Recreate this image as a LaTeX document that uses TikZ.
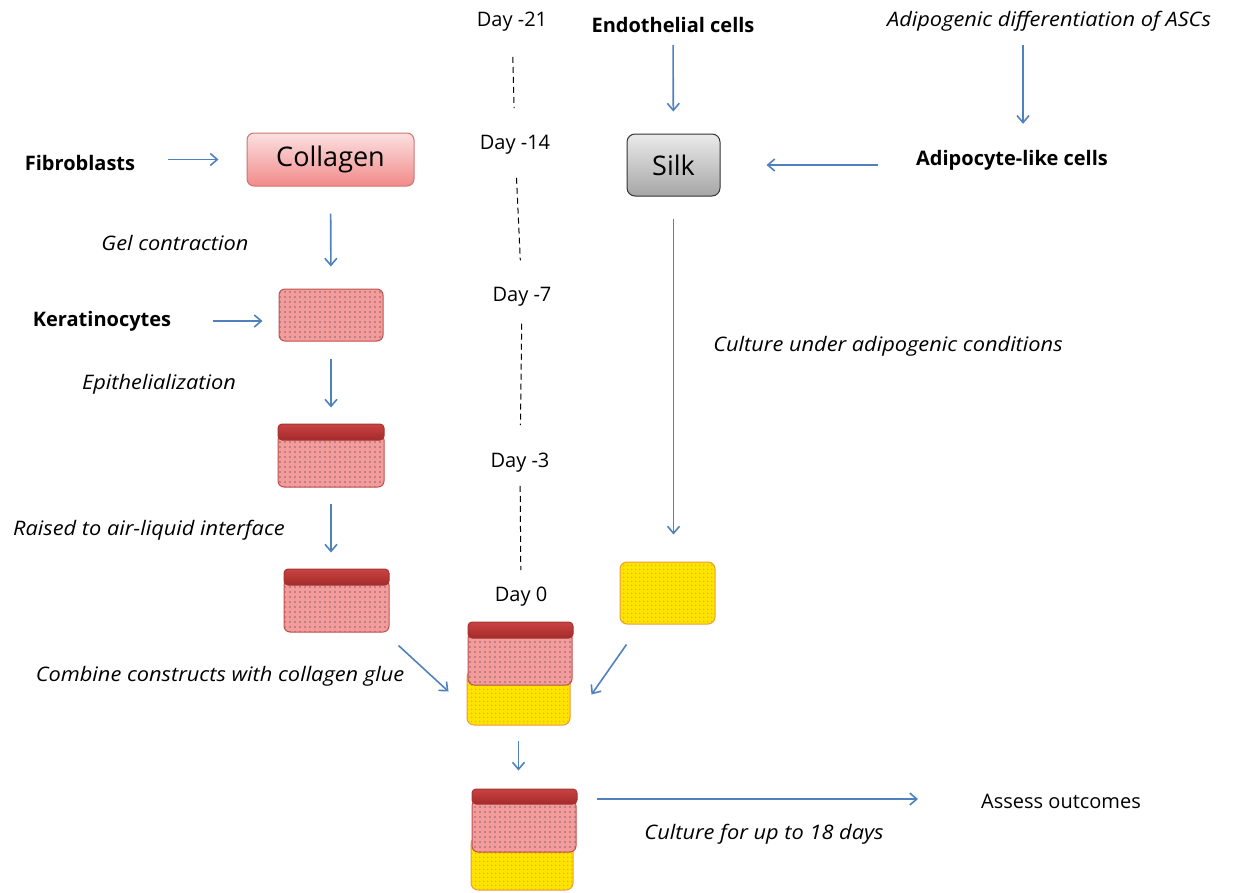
\documentclass[tikz,border=0pt]{standalone}
\usepackage{fontspec}
\setmainfont{Open Sans}
\newfontfamily\stepfont[FakeStretch=1.09]{Open Sans}
\usetikzlibrary{
  arrows.meta,
  patterns.meta
}
\definecolor{flowBlue}{HTML}{4F81BD}
\definecolor{pinkFill}{HTML}{F49C9C}
\definecolor{pinkLine}{HTML}{C0504D}
\definecolor{pinkDot}{HTML}{86666A}
\definecolor{redTop}{HTML}{C94343}
\definecolor{redBottom}{HTML}{A52A2A}
\definecolor{redLine}{HTML}{A33434}
\definecolor{yellowFill}{HTML}{FFE400}
\definecolor{yellowDot}{HTML}{EDB800}
\definecolor{yellowLine}{HTML}{F09A3E}
\definecolor{collTop}{HTML}{FBE0E0}
\definecolor{collBottom}{HTML}{F28A8A}
\tikzset{
  font=\fontsize{20}{24}\selectfont,
  daytext/.style={text=black, inner sep=2pt},
  cellname/.style={font=\fontsize{20}{24}\selectfont\bfseries, inner sep=2pt},
  steptext/.style={font=\stepfont\fontsize{20}{24}\selectfont\itshape, inner sep=2pt},
  plaintext/.style={inner sep=2pt},
  layer/.style={inner sep=0pt, line width=1pt},
  pinklayer/.style={layer, rounded corners=6pt, draw=pinkLine,
    preaction={fill=pinkFill},
    pattern={Dots[distance=5pt, radius=0.85pt]}, pattern color=pinkDot},
  redlayer/.style={layer, rounded corners=4pt, draw=redLine,
    top color=redTop, bottom color=redBottom},
  yellowlayer/.style={layer, rounded corners=7pt, draw=yellowLine,
    preaction={fill=yellowFill},
    pattern={Dots[distance=4pt, radius=1.2pt]}, pattern color=yellowDot},
  collbox/.style={layer, rounded corners=7pt, draw=pinkLine!80,
    top color=collTop, bottom color=collBottom,
    font=\fontsize{27}{32}\selectfont},
  silkbox/.style={layer, rounded corners=8pt, draw=black!80,
    top color=black!8, bottom color=black!35,
    font=\fontsize{27}{32}\selectfont},
  flow/.style={-{Straight Barb[length=7pt, width=12pt]}, line width=1.6pt, draw=flowBlue},
  dayline/.style={line width=1pt, draw=black, dash pattern=on 6pt off 4pt}
}

\begin{document}
\begin{tikzpicture}[x=1pt,y=-1pt]
\useasboundingbox (0,0) rectangle (1233,892);

% timeline
\node[daytext] (day21) at (512,22) {Day -21};
\node[daytext] (day14) at (515,145) {Day -14};
\node[daytext] (day7) at (522,297) {Day -7};
\node[daytext] (day3) at (520,463) {Day -3};
\node[daytext] (day0) at (521,597) {Day 0};

\draw[dayline, shorten <=23pt, shorten >=25pt] (day21) -- (day14);
\draw[dayline, shorten <=21pt, shorten >=25pt] (day14) -- (day7);
\draw[dayline, shorten <=15pt, shorten >=26pt] (day7) -- (day3);
\draw[dayline, shorten <=11pt, shorten >=15pt] (day3) -- (day0);

% skin side
\node[cellname] (fibro) at (80,163) {Fibroblasts};
\node[collbox, minimum width=167pt, minimum height=53pt] (collagen) at (330.5,159.5) {Collagen};
\node[steptext] (gel) at (175,243) {Gel contraction};
\node[pinklayer, minimum width=104pt, minimum height=52pt] (gelbox) at (331,315) {};
\node[cellname] (kera) at (102,321) {Keratinocytes};
\node[steptext] (epi) at (159,384) {Epithelialization};
\node[pinklayer, minimum width=106pt, minimum height=53pt] (epibox) at (331,460.5) {};
\node[redlayer, minimum width=106pt, minimum height=16pt] (epitop) at (331,432) {};
\node[steptext] (raise) at (149,530) {Raised to air-liquid interface};
\node[pinklayer, minimum width=105pt, minimum height=53pt] (airbox) at (336.5,605.5) {};
\node[redlayer, minimum width=105pt, minimum height=16pt] (airtop) at (336.5,577) {};

\draw[flow, shorten <=31pt, shorten >=28pt] (fibro.east |- collagen.west) -- (collagen.west);
\draw[flow, shorten <=27pt, shorten >=22pt] (collagen) -- (gelbox);
\draw[flow, shorten <=40pt, shorten >=16pt] (kera.east) -- (gelbox.west |- kera.east);
\draw[flow, shorten <=17pt, shorten >=16pt] (gelbox) -- (epitop);
\draw[flow, shorten <=16pt, shorten >=16pt] (epibox.south) -- (airtop.north -| epibox.south);

% fat side
\node[cellname] (endo) at (673,25) {Endothelial cells};
\node[steptext] (adipodiff) at (1049,21) {Adipogenic differentiation of ASCs};
\node[cellname] (adipo) at (1012,160) {Adipocyte-like cells};
\node[silkbox, minimum width=93pt, minimum height=62pt] (silk) at (673.5,165) {Silk};
\node[steptext] (adicult) at (888,346) {Culture under adipogenic conditions};
\node[yellowlayer, minimum width=95pt, minimum height=62pt] (fatbox) at (667.5,593) {};

\draw[flow, shorten <=10pt, shorten >=22pt] (endo) -- (silk);
\draw[flow] ([xshift=-26pt, yshift=-12pt]adipodiff.south) -- ([xshift=11pt, yshift=24pt]adipo.north);
\draw[flow, shorten <=36pt, shorten >=46pt] (adipo.west |- silk) -- (silk.east);
\draw[flow, shorten <=22pt, shorten >=27pt] (silk.south) -- (fatbox.north -| silk.south);

% combined construct
\node[steptext] (combine) at (220,676) {Combine constructs with collagen glue};
\node[yellowlayer, minimum width=103pt, minimum height=55pt] (combfat) at (518.5,697.5) {};
\node[pinklayer, minimum width=104pt, minimum height=53pt] (combskin) at (520,658.5) {};
\node[redlayer, minimum width=105pt, minimum height=16pt] (combtop) at (520.5,630) {};

\draw[flow] ([shift={(9,13)}]airbox.south east) -- ([shift={(-18,22)}]combfat.north west);
\draw[flow] ([shift={(7,20)}]fatbox.south west) -- ([shift={(21,25)}]combfat.north east);

% final culture
\node[yellowlayer, minimum width=102pt, minimum height=53pt] (finalfat) at (522,863.5) {};
\node[pinklayer, minimum width=104pt, minimum height=52pt] (finalskin) at (524,826) {};
\node[redlayer, minimum width=105pt, minimum height=15pt] (finaltop) at (524.5,796.5) {};
\node[plaintext] (assess) at (1061,801) {Assess outcomes};
\node[steptext] (finalcult) at (764,834) {Culture for up to 18 days};

\draw[flow, shorten <=15pt, shorten >=18pt] (combfat.south) -- (finaltop.north -| combfat.south);
\draw[flow, shorten <=19pt, shorten >=61pt] ([yshift=-2.5pt]finaltop.east) -- ([yshift=2pt]assess.west);

\end{tikzpicture}
\end{document}
